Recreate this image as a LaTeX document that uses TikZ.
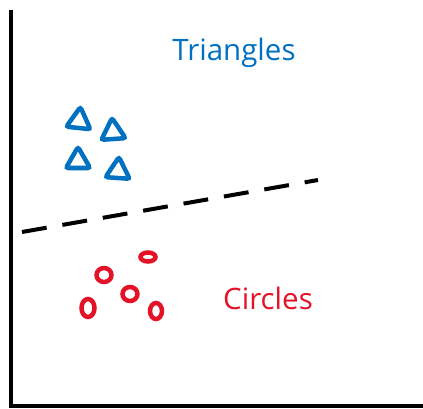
\documentclass[tikz,border=0pt]{standalone}
\usepackage{fontspec}
\newfontfamily\handfont{Open Sans}
\usetikzlibrary{shapes.geometric,positioning}
\definecolor{triblue}{RGB}{0,112,192}
\definecolor{circred}{RGB}{228,18,38}

\begin{document}
\begin{tikzpicture}[
  x=1pt, y=-1pt,
  axis/.style={draw, line width=4pt},
  sep/.style={draw, line width=4pt, dash pattern=on 25pt off 16pt},
  tri/.style={draw=triblue, line width=4.5pt, regular polygon,
              regular polygon sides=3, inner sep=0pt, minimum size=28pt,
              rounded corners=2.5pt},
  circ/.style={draw=circred, line width=4.5pt, ellipse, inner sep=0pt,
               minimum width=11pt, minimum height=13pt},
  lbl/.style={font=\handfont\fontsize{29.5}{32}\selectfont}
]
\useasboundingbox (0,0) rectangle (423,409);

% axes
\coordinate (org) at (11,406);
\draw[axis] (11,10) -- (org) -- (425,406);

% labels
\node[lbl, text=triblue] (tlabel) at (234,53) {Triangles};
\node[lbl, text=circred] (clabel) at (268,298) {Circles};

% triangles
\node[tri, rotate=-6] (t1) at (79,121) {};
\node[tri, rotate=4] (t2) at (113,132) {};
\node[tri] (t3) at (78,161) {};
\node[tri, rotate=-4] (t4) at (118,171) {};

% circles
\node[circ, minimum width=15pt, minimum height=9pt] (c1) at (148,257) {};
\node[circ, minimum width=15pt, minimum height=14pt] (c2) at (104,275) {};
\node[circ, minimum width=15pt, minimum height=14pt] (c3) at (130,294) {};
\node[circ, minimum width=13pt, minimum height=18pt] (c4) at (88,308) {};
\node[circ, minimum width=12pt, minimum height=16pt] (c5) at (156,311) {};

% decision boundary
\coordinate (d0) at (22,232);
\coordinate (d1) at (318,180);
\draw[sep] (d0) -- (d1);
\end{tikzpicture}
\end{document}
